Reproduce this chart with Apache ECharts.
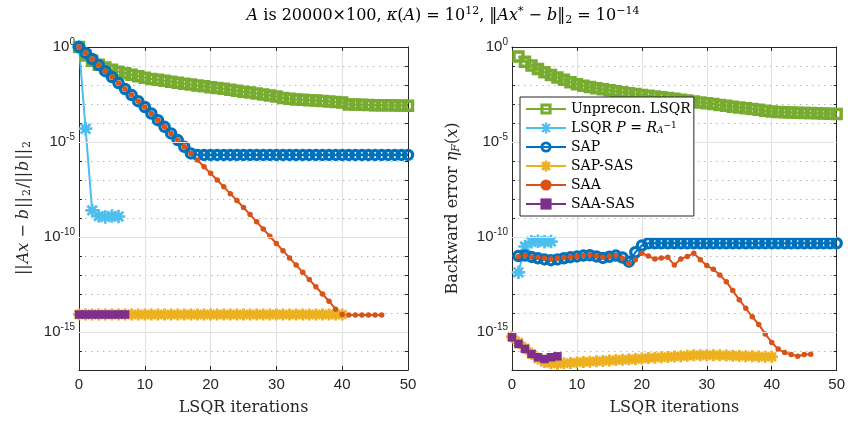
<!DOCTYPE html>
<html><head><meta charset="utf-8">
<script src="https://cdn.jsdelivr.net/npm/echarts@6/dist/echarts.min.js"></script>
<style>html,body{margin:0;padding:0;background:#fff}#c{width:848px;height:421px}</style>
</head><body><div id="c"></div>
<script>
// x axis: LSQR iterations
const iterMin = 0, iterMax = 50, iterStep = 10;
// y axis: log10 of value, decades from 1e-17 to 1e0, labelled every 5 decades
const logMin = -17, logMax = 0;
const majorDecades = [0, -5, -10, -15];

// ---- Left panel: ||Ax-b||_2/||b||_2  (log10 values) ----
const unpreconLeft = [0, -0.45, -0.72, -0.93, -1.08, -1.2, -1.3, -1.38, -1.46, -1.54,
  -1.62, -1.68, -1.73, -1.78, -1.83, -1.88, -1.93, -1.98, -2.03, -2.07,
  -2.12, -2.16, -2.2, -2.25, -2.3, -2.35, -2.4, -2.45, -2.5, -2.55,
  -2.6, -2.68, -2.73, -2.76, -2.78, -2.8, -2.82, -2.84, -2.87, -2.89,
  -2.92, -3.02, -3.03, -3.04, -3.05, -3.06, -3.07, -3.07, -3.08, -3.08, -3.09]; // i = 0..50
const lsqrPLeft = [0, -4.3, -8.6, -8.9, -8.95, -8.9, -8.92]; // i = 0..6
const sapLeft = [0, -0.31, -0.63, -0.95, -1.27, -1.58, -1.9, -2.21, -2.53, -2.85,
  -3.16, -3.5, -3.85, -4.2, -4.55, -4.9, -5.25, -5.6, -5.68, -5.68,
  -5.68, -5.68, -5.68, -5.68, -5.68, -5.68, -5.68, -5.68, -5.68, -5.68,
  -5.68, -5.68, -5.68, -5.68, -5.68, -5.68, -5.68, -5.68, -5.68, -5.68,
  -5.68, -5.68, -5.68, -5.68, -5.68, -5.68, -5.68, -5.68, -5.68, -5.68, -5.68]; // i = 0..50
const sapSasLeft = [-14.08, -14.08, -14.08, -14.08, -14.08, -14.08, -14.08, -14.08, -14.08, -14.08,
  -14.08, -14.08, -14.08, -14.08, -14.08, -14.08, -14.08, -14.08, -14.08, -14.08,
  -14.08, -14.08, -14.08, -14.08, -14.08, -14.08, -14.08, -14.08, -14.08, -14.08,
  -14.08, -14.08, -14.08, -14.08, -14.08, -14.08, -14.08, -14.08, -14.08, -14.08, -14.08]; // i = 0..40
const saaLeft = [0, -0.31, -0.63, -0.95, -1.27, -1.58, -1.9, -2.21, -2.53, -2.85,
  -3.16, -3.5, -3.85, -4.2, -4.55, -4.9, -5.25, -5.6, -5.95, -6.3,
  -6.65, -7.0, -7.36, -7.72, -8.08, -8.45, -8.82, -9.2, -9.58, -9.96,
  -10.34, -10.72, -11.1, -11.48, -11.86, -12.24, -12.62, -13.0, -13.38, -13.8,
  -14.08, -14.1, -14.1, -14.1, -14.1, -14.1, -14.1]; // i = 0..46
const saaSasLeft = [-14.08, -14.08, -14.08, -14.08, -14.08, -14.08, -14.08, -14.08]; // i = 0..7

// ---- Right panel: backward error eta_F(x)  (log10 values) ----
const unpreconRight = [-0.5, -0.77, -0.97, -1.16, -1.33, -1.47, -1.6, -1.72, -1.85, -1.96,
  -2.04, -2.1, -2.17, -2.23, -2.28, -2.33, -2.38, -2.43, -2.48, -2.52,
  -2.56, -2.6, -2.64, -2.69, -2.73, -2.77, -2.82, -2.87, -2.92, -2.96,
  -3.0, -3.05, -3.09, -3.14, -3.18, -3.22, -3.26, -3.3, -3.35, -3.39,
  -3.42, -3.44, -3.45, -3.46, -3.47, -3.48, -3.49, -3.5, -3.51, -3.52]; // i = 1..50
const lsqrPRight = [-11.86, -10.5, -10.25, -10.22, -10.25, -10.24]; // i = 1..6
const sapRight = [-11.0, -10.98, -11.05, -11.12, -11.18, -11.22, -11.18, -11.12, -11.06, -11.02,
  -10.98, -10.96, -11.02, -11.1, -11.04, -10.98, -11.08, -11.3, -10.8, -10.45,
  -10.33, -10.33, -10.33, -10.33, -10.33, -10.33, -10.33, -10.33, -10.33, -10.33,
  -10.33, -10.33, -10.33, -10.33, -10.33, -10.33, -10.33, -10.33, -10.33, -10.33,
  -10.33, -10.33, -10.33, -10.33, -10.33, -10.33, -10.33, -10.33, -10.33, -10.33]; // i = 1..50
const sapSasRight = [-15.25, -15.55, -15.85, -16.15, -16.4, -16.58, -16.65, -16.67, -16.65, -16.63,
  -16.6, -16.58, -16.56, -16.54, -16.52, -16.5, -16.48, -16.46, -16.44, -16.42,
  -16.4, -16.37, -16.35, -16.33, -16.31, -16.29, -16.27, -16.25, -16.23, -16.22,
  -16.22, -16.22, -16.23, -16.24, -16.25, -16.26, -16.27, -16.28, -16.29, -16.3, -16.3]; // i = 0..40
const saaRight = [-11.02, -10.98, -11.05, -11.08, -11.12, -11.16, -11.12, -11.08, -11.05, -11.02,
  -10.98, -10.95, -11.0, -11.06, -11.03, -10.98, -11.12, -11.39, -11.2, -10.86,
  -11.0, -11.16, -11.1, -11.07, -11.48, -11.16, -11.02, -10.86, -11.2, -11.5,
  -11.7, -12.0, -12.35, -12.82, -13.3, -13.75, -14.2, -14.6, -15.1, -15.55,
  -15.9, -16.08, -16.18, -16.28, -16.18, -16.17]; // i = 1..46
const saaSasRight = [-15.28, -15.63, -15.89, -16.16, -16.33, -16.42, -16.33, -16.28]; // i = 0..7

const names = ['Unprecon. LSQR', 'LSQR P', 'SAP', 'SAP-SAS', 'SAA', 'SAA-SAS'];

const C = {green:'#77AC30', lblue:'#4DBEEE', blue:'#0072BD', yellow:'#EDB120', orange:'#D95319', purple:'#7E2F8E'};
// marker shapes as filled outlines (hollow square ring, hollow circle ring, 8-arm asterisk)
const SQ_RING = 'path://M0,0H25V25H0Z M7,7V18H18V7Z';
const CI_RING = 'path://M12.5,0A12.5,12.5,0,1,1,12.5,25A12.5,12.5,0,1,1,12.5,0Z M12.5,6.5A6,6,0,1,0,12.5,18.5A6,6,0,1,0,12.5,6.5Z';
const STAR_T = 'path://M0,8H20V12H0Z M8,0H12V20H8Z M4.41,1.59L18.41,15.59L15.59,18.41L1.59,4.41Z M4.41,18.41L1.59,15.59L15.59,1.59L18.41,4.41Z';
const STAR_B = 'path://M0,7.6H20V12.4H0Z M7.6,0H12.4V20H7.6Z M4.7,1.3L18.7,15.3L15.3,18.7L1.3,4.7Z M4.7,18.7L1.3,15.3L15.3,1.3L18.7,4.7Z';
const AX = '#262626';
const SANS = 'Liberation Sans';
const SERIF = 'DejaVu Serif';

function pts(arr, start) { return arr.map((v, k) => [start + k, v]); }

function styleFor(name) {
  switch (name) {
    case 'Unprecon. LSQR': return {symbol:SQ_RING, symbolSize:12.5, color:C.green};
    case 'LSQR P': return {symbol:STAR_T, symbolSize:13.5, color:C.lblue};
    case 'SAP': return {symbol:CI_RING, symbolSize:12.5, color:C.blue};
    case 'SAP-SAS': return {symbol:STAR_B, symbolSize:12, color:C.yellow};
    case 'SAA': return {symbol:'circle', symbolSize:5.5, color:C.orange};
    case 'SAA-SAS': return {symbol:'rect', symbolSize:8.5, color:C.purple};
  }
}

function mkSeries(name, arr, start, panel) {
  const s = styleFor(name);
  return {
    name, type:'line', xAxisIndex: panel*2, yAxisIndex: panel*2,
    data: pts(arr, start), symbol: s.symbol, symbolSize: s.symbolSize, showSymbol:true,
    clip:false, z:3,
    lineStyle:{color:s.color, width:2},
    itemStyle:{color:s.color, borderWidth:0},
    emphasis:{disabled:true}
  };
}

function majorGrid(panel) {
  return {
    type:'line', xAxisIndex:panel*2, yAxisIndex:panel*2, data:[], z:1, silent:true,
    markLine:{silent:true, symbol:'none', animation:false, label:{show:false},
      lineStyle:{color:'#e1e1e1', type:'solid', width:1},
      data: majorDecades.filter(d => d > logMin && d < logMax).map(d => ({yAxis:d}))}
  };
}

const supStyle = {fontSize:10, fontFamily:SANS, color:AX, padding:[0,0,9,0]};
const tickRich = {b:{fontSize:15, fontFamily:SANS, color:AX}, s:supStyle};

function xAxes(panel) {
  return [{
    gridIndex:panel, type:'value', min:iterMin, max:iterMax, interval:iterStep, position:'bottom',
    axisLine:{onZero:false, lineStyle:{color:AX, width:1}},
    axisTick:{inside:true, length:4, lineStyle:{color:AX}},
    axisLabel:{color:AX, fontFamily:SANS, fontSize:15, margin:7},
    splitLine:{show:true, lineStyle:{color:'#e1e1e1', width:1}},
    name:'LSQR iterations', nameLocation:'middle', nameGap:30,
    nameTextStyle:{fontFamily:SERIF, fontSize:16, color:AX}
  }, {
    gridIndex:panel, type:'value', min:iterMin, max:iterMax, interval:iterStep, position:'top',
    axisLine:{onZero:false, lineStyle:{color:AX, width:1}},
    axisTick:{inside:true, length:4, lineStyle:{color:AX}},
    axisLabel:{show:false}, splitLine:{show:false}
  }];
}

function yAxes(panel, nameText, nameGap) {
  return [{
    gridIndex:panel, type:'value', min:logMin, max:logMax, interval:1, position:'left',
    axisLine:{onZero:false, lineStyle:{color:AX, width:1}},
    axisTick:{inside:true, length:3, lineStyle:{color:AX}},
    axisLabel:{margin:4, formatter: v => (majorDecades.indexOf(v) >= 0 ? '{b|10}{s|' + v + '}' : ''), rich:tickRich},
    splitLine:{show:true, lineStyle:{color:'#b8b8b8', width:1, type:[1.5,4.5]}},
    name:nameText, nameLocation:'middle', nameGap:nameGap, nameRotate:90,
    nameTextStyle:{fontFamily:SERIF, fontSize:16, color:AX, rich:{
      rm:{fontFamily:SERIF, fontSize:16, color:AX},
      rmw:{fontFamily:SERIF, fontSize:16, color:AX, padding:[0,1,0,1]},
      it:{fontFamily:SERIF, fontStyle:'italic', fontSize:16, color:AX},
      sub:{fontFamily:SERIF, fontSize:11, color:AX, padding:[8,0,0,0]},
      subit:{fontFamily:SERIF, fontStyle:'italic', fontSize:11, color:AX, padding:[8,0,0,0]}
    }}
  }, {
    gridIndex:panel, type:'value', min:logMin, max:logMax, interval:1, position:'right',
    axisLine:{onZero:false, lineStyle:{color:AX, width:1}},
    axisTick:{inside:true, length:3, lineStyle:{color:AX}},
    axisLabel:{show:false}, splitLine:{show:false}
  }];
}

const leftName = '{rmw|||}{it|Ax}{rm| − }{it|b}{rmw|||}{sub|2}{rmw|/||}{it|b}{rmw|||}{sub|2}';
const rightName = '{rm|Backward error }{it|η}{subit|F}{rm|(}{it|x}{rm|)}';

const titleText = '{it|A}{rm| is 20000×100, }{it|κ}{rm|(}{it|A}{rm|) = 10}{sup|12}{rm|, ‖}{it|Ax}{sup|*}{rm| − }{it|b}{rm|‖}{sub|2}{rm| = 10}{sup|−14}';

const series = [
  majorGrid(0), majorGrid(1),
  mkSeries('Unprecon. LSQR', unpreconLeft, 0, 0),
  mkSeries('LSQR P', lsqrPLeft, 0, 0),
  mkSeries('SAP', sapLeft, 0, 0),
  mkSeries('SAP-SAS', sapSasLeft, 0, 0),
  mkSeries('SAA', saaLeft, 0, 0),
  mkSeries('SAA-SAS', saaSasLeft, 0, 0),
  mkSeries('Unprecon. LSQR', unpreconRight, 1, 1),
  mkSeries('LSQR P', lsqrPRight, 1, 1),
  mkSeries('SAP', sapRight, 1, 1),
  mkSeries('SAP-SAS', sapSasRight, 0, 1),
  mkSeries('SAA', saaRight, 1, 1),
  mkSeries('SAA-SAS', saaSasRight, 0, 1)
];

const chart = echarts.init(document.getElementById('c'), null, {renderer:'canvas'});
chart.setOption({
  animation:false,
  backgroundColor:'#fff',
  grid:[
    {left:79, top:47, width:329, height:325, show:false},
    {left:512, top:47, width:329, height:325, show:false}
  ],
  xAxis:[...xAxes(0), ...xAxes(1)],
  yAxis:[...yAxes(0, leftName, 46), ...yAxes(1, rightName, 50)],
  legend:{
    orient:'vertical', left:520, top:97, itemWidth:40, itemHeight:14, itemGap:5,
    padding:[5,3,5,5], borderColor:AX, borderWidth:1, borderRadius:0, backgroundColor:'#fff',
    selectedMode:false, data:names, z:10,
    textStyle:{fontFamily:SERIF, fontSize:14, color:'#000', rich:{
      rm:{fontFamily:SERIF, fontSize:14, color:'#000'},
      it:{fontFamily:SERIF, fontStyle:'italic', fontSize:14, color:'#000'},
      subit:{fontFamily:SERIF, fontStyle:'italic', fontSize:9, color:'#000', padding:[5,0,0,0]},
      sup:{fontFamily:SERIF, fontSize:9, color:'#000', padding:[0,0,5,0]}
    }},
    formatter: n => n === 'LSQR P' ? '{rm|LSQR }{it|P}{rm| = }{it|R}{subit|A}{sup|−1}' : n
  },
  graphic:[{
    type:'text', x:443, y:16, silent:true,
    style:{text:titleText, textAlign:'center', textVerticalAlign:'middle', fill:'#000',
      font:'16px "DejaVu Serif"',
      rich:{
        rm:{fontFamily:SERIF, fontSize:16, fill:'#000'},
        it:{fontFamily:SERIF, fontStyle:'italic', fontSize:16, fill:'#000'},
        sup:{fontFamily:SERIF, fontSize:11, fill:'#000', padding:[0,0,9,0]},
        sub:{fontFamily:SERIF, fontSize:11, fill:'#000', padding:[8,0,0,0]}
      }}
  }],
  series
});
</script></body></html>
